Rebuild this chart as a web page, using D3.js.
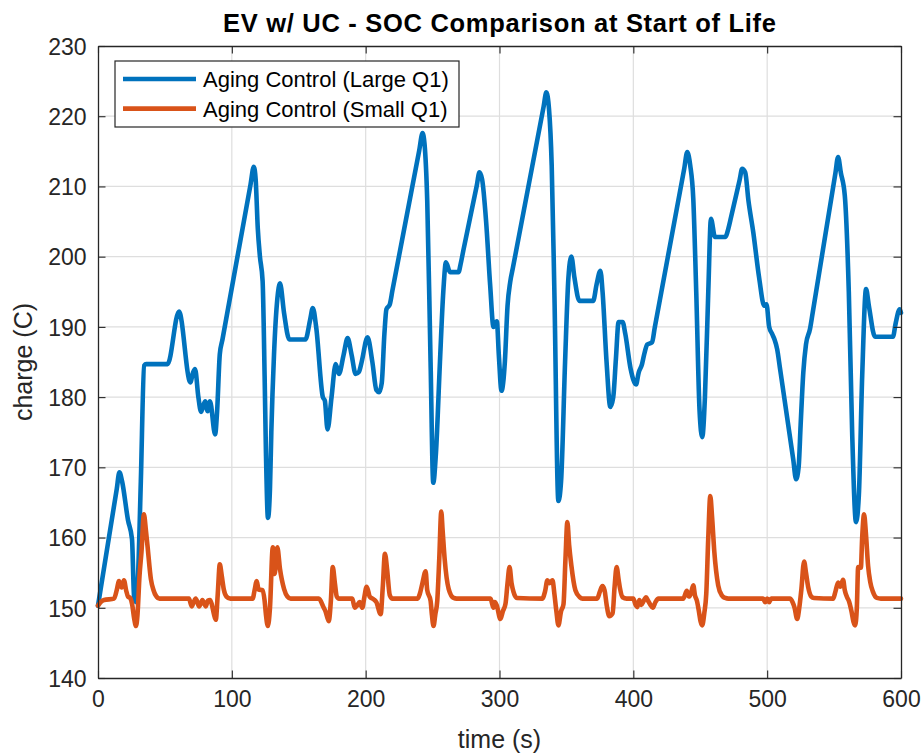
<!DOCTYPE html>
<html>
<head>
<meta charset="utf-8">
<script src="https://cdn.jsdelivr.net/npm/d3@7"></script>
<style>
  html, body { margin: 0; padding: 0; background: #ffffff; }
  svg { display: block; font-family: "Liberation Sans", Arial, Helvetica, sans-serif; }
</style>
</head>
<body>
<svg id="chart" width="924" height="755"></svg>
<script>
// ---------- data ----------
const titleText = "EV w/ UC - SOC Comparison at Start of Life";
const xLabel = "time (s)";
const yLabel = "charge (C)";
const xTicks = [0, 100, 200, 300, 400, 500, 600];
const yTicks = [140, 150, 160, 170, 180, 190, 200, 210, 220, 230];
const seriesNames = ["Aging Control (Large Q1)", "Aging Control (Small Q1)"];

const largeT = [0,2,14,16,18,22.4,25.4,27,28.5,30,32,34.5,36,38,50,52,60.5,69,71,72.5,75,77,80,82,83.7,87.5,89,91,93,114,
  116.4,117.8,119.4,121,123,124.5,125.5,127,128.5,129.5,131.5,134,136,139,143,145,153,155,158.5,160.5,163,168,169.5,171.5,
  174.5,177.6,180,183.5,186.5,189.5,192.5,195,197,201.4,205,208,210,212,214,215.5,218,220,240,
  242.5,244,246,248.5,250.5,252.5,255.5,258,260,263,269.4,271,273,283,285,287,290,293,295.5,298,299.5,301.5,304,306,308,310,333,
  335,337,339,341,344,346,349,351.5,353.7,356,359.7,362,368,370,372.5,375.4,377,380,382.8,385,387,389,392,394,398,402,404,406.5,408,410.4,414,416,438,
  440.3,442.5,444.8,447,449.5,451.5,453.5,456,458,461,468.7,471,473,479.5,481.3,483.6,486,489.6,494,497.8,499.5,501.5,503.7,505.5,507.5,509.5,519.5,
  521.6,523.5,525,527,529,532,534,551,553,555,558,561,563.5,566.4,568.5,571,573.9,576,580.6,583,592,594,596,599,600];
const largeV = [150.3,152.7,166.9,169.3,168,162.5,159.8,151.5,150.8,155,168,184.5,184.7,184.7,184.7,184.7,192.2,182.1,183.5,184,180,177.9,179.4,178,179.4,174.7,178,186.1,188.2,210.3,
  212.8,211,204,200,196.5,183,172,162.8,167,175,186,194,196.2,192,188.2,188.2,188.2,188.2,191,192.7,190,180,179.5,175.4,
  180,184.7,183.3,186,188.4,186,183.3,183.6,185,188.5,185,181,180.7,182,189,192.5,193.2,195.2,215.1,
  217.6,216,208,185,167.8,172,185,195,199.2,197.8,197.8,199,200.9,210.1,212,211,205,196,190,190.8,186,180.9,185,193,196.4,198.4,221.4,
  223.4,221,213,195,165.2,168,185,197,200,197,193.7,193.7,193.7,193.7,196,198,195,185,178.6,180,185.5,190.7,190.7,189,184,181.8,183.5,184.7,186,187.5,187.8,189.9,212.5,
  214.9,213,208.2,195,178,174.3,180,195,205.4,202.8,202.8,204,205.6,211,212.5,212,208,203.5,197,193,193.2,190,189,188.2,186.8,184.2,171.1,
  168.3,170,176,183.5,187.5,189.7,192,211.9,214.2,212,208.7,195,175,162.2,166,183,195.4,193,188.6,188.6,188.6,188.6,190.5,192.5,192];

const smallT = [0,2,4.5,12,14,15.7,17.7,19.4,21,22.4,24,25.5,27,28.4,29.5,31,32.5,34.3,35.8,37,39.5,41.5,43.3,46,
  68,70,71.5,73,75.6,78,80.6,82,83.7,85,86.5,88,89.5,91,92.5,94,96,99,
  115.6,117,118.6,120,123,124.5,125.5,126.9,128.5,130.6,132,134,136,139,141.5,144,
  165,168.7,170,172.4,174,175.4,177,178.4,180,190,191.8,193.5,195.5,197.5,199,200.7,202,203,206,208,211.2,212.8,214.4,216,218,220,
  238.8,240.5,242.5,244.8,246,248.5,249.5,250.7,252,253.5,255,256.5,257.5,259,262,265.7,268,
  293.3,295.5,296.5,298,300.7,302.5,304.5,306,307.5,309,310.4,313,
  332,334,335.8,337.5,339.6,341,342.5,344,346,347.8,349.3,350.7,352,353.7,356.7,360,362,
  373,375,376.9,378.5,380,382,384.5,386,387.5,389,390,392,395,400,401.5,403,404.5,406,407.5,409.5,411,412.5,414.5,416.5,418.7,
  437.3,440,441.5,443,444.8,446,447.5,449,450.3,451.5,453,454.5,456,457.5,458.8,460.5,463.4,466,468.7,471,
  497,498.5,500,501.5,503,517,519,520.5,522.4,524,525.5,527.6,529,530.6,533,535,
  549.3,551,553,554.6,556.7,558,559.7,561,563,564.5,565.7,567,568,570,571,572.4,573.8,575.4,577,579,582,585,600];
const smallV = [150.3,150.8,151.1,151.3,152.5,153.8,152.9,153.9,152.5,151.6,151.4,150.5,148.5,147.4,149,154.5,158,163.3,161,158.8,154.1,152.5,151.7,151.3,
  151.3,150.2,150.8,151.3,150.2,151.1,150.2,151,151.1,150.5,149.2,148.3,152,156.2,154.5,152.6,151.6,151.3,
  151.3,152.5,153.8,152.6,152.5,151,149,147.4,150,158.6,154.8,158.6,155.5,152.7,151.6,151.3,
  151.3,150,149.5,148.1,151,155.8,153.5,151.6,151.3,151.3,150,150.3,150.8,150,151.5,153,152.3,151.6,151.2,150.8,149.1,153,157.7,155.5,151.8,151.3,
  151.3,152,153.6,155.2,152.5,151,149,147.4,149,151,157,163.7,161,157,152.7,151.4,151.3,
  151.3,150,150.8,150.3,148.4,149.5,150.6,153.5,155.8,153.5,152.3,151.4,
  151.3,152.3,153.9,153.5,153.9,152,149.5,147.5,149.5,150.5,157,162.2,159,156,152.5,151.5,151.3,
  151.3,152.3,153.1,152.5,150.5,148.8,149.2,153,155.8,154,152.8,151.5,151.3,151.3,150.5,150.1,151.1,150.4,150.9,151.5,151,150.5,150,150.8,151.3,
  151.3,152.4,151.6,152,153.2,151.8,151,149.5,148,147.5,149.2,152,160,165.9,163,158,153.2,151.8,151.4,151.3,
  151.3,150.8,151.3,150.8,151.3,151.3,150.8,150,148.4,150,152.5,156.6,155,153,151.6,151.4,
  151.3,152.3,153.6,153,154,152.5,151.5,151,149.5,148,147.5,150,155.8,155.7,160,163.3,160.5,156,153.7,152.3,151.4,151.3,151.3];

// ---------- layout ----------
const svg = d3.select("#chart");
const M = { left: 98, right: 901, top: 46, bottom: 678 };
const axisColor = "#262626";
const gridColor = "#dedede";
const colors = ["#0072BD", "#D95319"];

const x = d3.scaleLinear().domain([0, 600]).range([M.left, M.right]);
const y = d3.scaleLinear().domain([140, 230]).range([M.bottom, M.top]);

svg.append("rect").attr("x", 0).attr("y", 0).attr("width", 924).attr("height", 755).attr("fill", "#fff");

// grid
const grid = svg.append("g");
grid.selectAll("line.gx").data(xTicks.slice(1, -1)).enter().append("line")
  .attr("x1", d => x(d)).attr("x2", d => x(d)).attr("y1", M.top).attr("y2", M.bottom)
  .attr("stroke", gridColor).attr("stroke-width", 1.2);
grid.selectAll("line.gy").data(yTicks.slice(1, -1)).enter().append("line")
  .attr("y1", d => y(d)).attr("y2", d => y(d)).attr("x1", M.left).attr("x2", M.right)
  .attr("stroke", gridColor).attr("stroke-width", 1.2);

// lines
const line = d3.line().x(d => x(d[0])).y(d => y(d[1])).curve(d3.curveMonotoneX);
const largeData = largeT.map((t, i) => [t, largeV[i]]);
const smallData = smallT.map((t, i) => [t, smallV[i]]);
const plot = svg.append("g");
plot.append("path").datum(largeData).attr("d", line).attr("fill", "none")
  .attr("stroke", colors[0]).attr("stroke-width", 4.6).attr("stroke-linejoin", "round").attr("stroke-linecap", "round");
plot.append("path").datum(smallData).attr("d", line).attr("fill", "none")
  .attr("stroke", colors[1]).attr("stroke-width", 4.6).attr("stroke-linejoin", "round").attr("stroke-linecap", "round");

// axes (inward ticks on all sides)
const tickLen = 7.5;
const fontTick = 23;
const axB = svg.append("g").attr("transform", `translate(0,${M.bottom})`)
  .call(d3.axisBottom(x).tickValues(xTicks).tickSize(-tickLen).tickPadding(tickLen + 4).tickSizeOuter(0));
const axT = svg.append("g").attr("transform", `translate(0,${M.top})`)
  .call(d3.axisTop(x).tickValues(xTicks).tickSize(-tickLen).tickFormat("").tickSizeOuter(0));
const axL = svg.append("g").attr("transform", `translate(${M.left},0)`)
  .call(d3.axisLeft(y).tickValues(yTicks).tickSize(-tickLen).tickPadding(tickLen + 4).tickSizeOuter(0));
const axR = svg.append("g").attr("transform", `translate(${M.right},0)`)
  .call(d3.axisRight(y).tickValues(yTicks).tickSize(-tickLen).tickFormat("").tickSizeOuter(0));
[axB, axT, axL, axR].forEach(a => {
  a.select(".domain").attr("stroke", axisColor).attr("stroke-width", 1.3);
  a.selectAll(".tick line").attr("stroke", axisColor).attr("stroke-width", 1.1);
  a.selectAll(".tick text").attr("fill", axisColor).style("font-size", fontTick + "px")
    .style("font-family", '"Liberation Sans", Arial, sans-serif');
});
axB.selectAll(".tick text").attr("dy", "0.78em");
axL.selectAll(".tick text").attr("dy", "0.36em");

// labels
svg.append("text").attr("x", (M.left + M.right) / 2).attr("y", 32)
  .attr("text-anchor", "middle").attr("font-weight", "bold").attr("font-size", 25.5)
  .attr("fill", "#000").attr("textLength", 553).attr("lengthAdjust", "spacing").text(titleText);
svg.append("text").attr("x", (M.left + M.right) / 2).attr("y", 748)
  .attr("text-anchor", "middle").attr("font-size", 25).attr("fill", axisColor).text(xLabel);
svg.append("text").attr("transform", `translate(32,${(M.top + M.bottom) / 2}) rotate(-90)`)
  .attr("text-anchor", "middle").attr("font-size", 25).attr("fill", axisColor).text(yLabel);

// legend
const lg = svg.append("g");
lg.append("rect").attr("x", 115).attr("y", 61).attr("width", 344).attr("height", 66)
  .attr("fill", "#fff").attr("stroke", axisColor).attr("stroke-width", 1.2);
seriesNames.forEach((name, i) => {
  const yy = 79 + i * 29.6;
  lg.append("line").attr("x1", 123).attr("x2", 196).attr("y1", yy).attr("y2", yy)
    .attr("stroke", colors[i]).attr("stroke-width", 4.6);
  lg.append("text").attr("x", 203).attr("y", yy).attr("dy", "0.36em")
    .attr("font-size", 22).attr("fill", "#000").text(name);
});
</script>
</body>
</html>
